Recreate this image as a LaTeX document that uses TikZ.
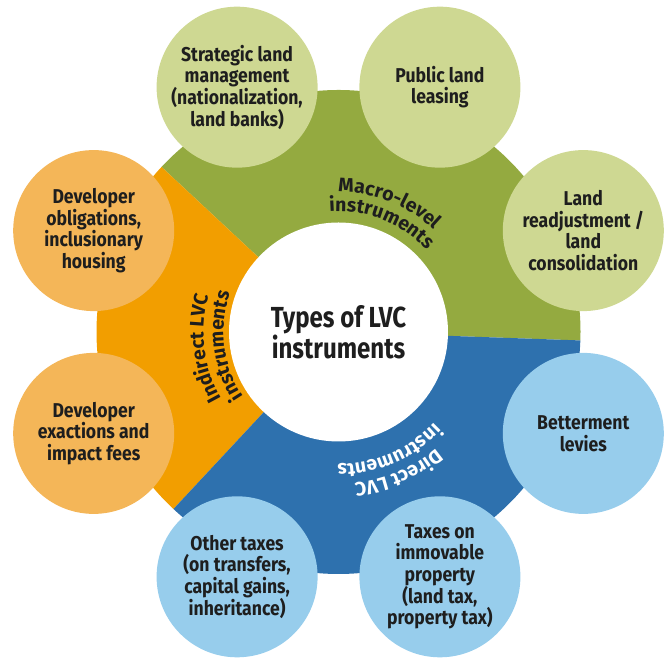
\documentclass[tikz,border=0pt]{standalone}
\usepackage{fontspec}
\setmainfont{Fira Sans}
\newfontfamily\leaffamily{Fira Sans}[FakeStretch=0.88]
\newfontfamily\hubfamily{Fira Sans}[FakeStretch=0.83]
\usetikzlibrary{decorations.text,calc}

\definecolor{ringgreen}{HTML}{94AA40}
\definecolor{ringorange}{HTML}{F29E00}
\definecolor{ringblue}{HTML}{2E71AE}
\definecolor{leafgreen}{HTML}{CED892}
\definecolor{leaforange}{HTML}{F4B658}
\definecolor{leafblue}{HTML}{97CDEC}
\definecolor{ink}{HTML}{1E1E1E}

\newcommand{\ringfont}{\bfseries\fontsize{19.5}{19.5}\selectfont}

\begin{document}
\begin{tikzpicture}[x=1pt,y=1pt,
  leaf/.style={circle, minimum size=161pt, inner sep=0pt, align=center,
    text=ink, font=\leaffamily\bfseries\fontsize{20}{21.7}\selectfont},
  hub/.style={circle, fill=white, minimum size=219pt, inner sep=0pt,
    align=center, text=ink, font=\hubfamily\bfseries\fontsize{29}{29}\selectfont},
  ringlabel/.style={decorate, decoration={text along path, text align=center,
    text={#1}}}
]
\useasboundingbox (0,0) rectangle (665,658);
\coordinate (C) at (338.5,326);

% the three ring segments
\fill[ringgreen]  (C) -- ++(-2:242)  arc[start angle=-2,  end angle=137, radius=242] -- cycle;
\fill[ringorange] (C) -- ++(137:242) arc[start angle=137, end angle=227, radius=242] -- cycle;
\fill[ringblue]   (C) -- ++(227:242) arc[start angle=227, end angle=358, radius=242] -- cycle;

% centre
\node[hub] (hub) at (C) {Types of LVC\\instruments};

% curved group labels (clockwise arcs, centred on each segment)
\path[ringlabel={|\ringfont\color{ink}|Macro-level}]
  ([shift={(113.5:140)}]C) arc[start angle=113.5, end angle=23.5, radius=140];
\path[ringlabel={|\ringfont\color{ink}|instruments}]
  ([shift={(113.5:120.5)}]C) arc[start angle=113.5, end angle=23.5, radius=120.5];

\path[ringlabel={|\ringfont\color{ink}|Indirect LVC}]
  ([shift={(232:135)}]C) arc[start angle=232, end angle=142, radius=135];
\path[ringlabel={|\ringfont\color{ink}|instruments}]
  ([shift={(232:115)}]C) arc[start angle=232, end angle=142, radius=115];

\path[ringlabel={|\ringfont\color{white}|Direct LVC}]
  ([shift={(-22:152)}]C) arc[start angle=-22, end angle=-112, radius=152];
\path[ringlabel={|\ringfont\color{white}|instruments}]
  ([shift={(-22:132)}]C) arc[start angle=-22, end angle=-112, radius=132];

% instrument circles
\node[leaf, fill=leafgreen] (strategic) at ([shift={(112.5:265)}]C)
  {Strategic land\\management\\(nationalization,\\land banks)};
\node[leaf, fill=leafgreen] (leasing) at ([shift={(67.5:265)}]C)
  {Public land\\leasing};
\node[leaf, fill=leafgreen] (readjust) at ([shift={(22.5:265)}]C)
  {Land\\readjustment /\\land\\consolidation};
\node[leaf, fill=leafblue] (betterment) at ([shift={(-22.5:265)}]C)
  {Betterment\\levies};
\node[leaf, fill=leafblue] (immovable) at ([shift={(-67.5:265)}]C)
  {Taxes on\\immovable\\property\\(land tax,\\property tax)};
\node[leaf, fill=leafblue] (othertax) at ([shift={(-112.5:265)}]C)
  {Other taxes\\(on transfers,\\capital gains,\\inheritance)};
\node[leaf, fill=leaforange] (exactions) at ([shift={(-157.5:265)}]C)
  {Developer\\exactions and\\impact fees};
\node[leaf, fill=leaforange] (obligations) at ([shift={(157.5:265)}]C)
  {Developer\\obligations,\\inclusionary\\housing};
\end{tikzpicture}
\end{document}
